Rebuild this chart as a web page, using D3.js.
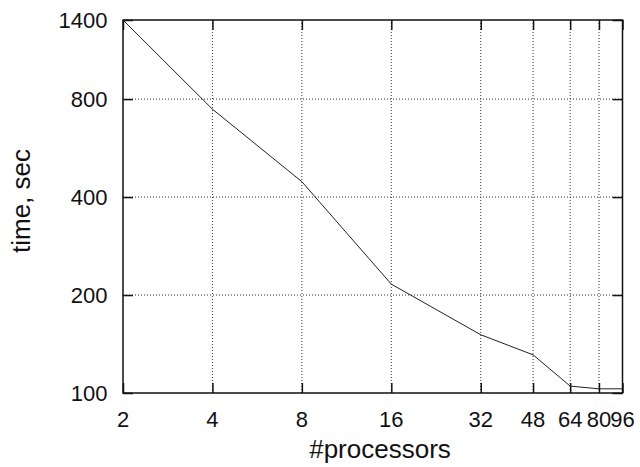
<!DOCTYPE html>
<html>
<head>
<meta charset="utf-8">
<script src="https://cdn.jsdelivr.net/npm/d3@7"></script>
<style>
  body { margin: 0; background: #fff; }
  text { font-family: "Liberation Sans", Arial, sans-serif; fill: #111; }
</style>
</head>
<body>
<div id="chart"></div>
<script>
// data
let procs = [2, 4, 8, 16, 32, 48, 64, 80, 96];
let times = [1400, 745, 446, 216, 151, 131, 105, 103, 103];

// tick labels
let xTicks = [2, 4, 8, 16, 32, 48, 64, 80, 96];
let yTicks = [100, 200, 400, 800, 1400];

let width = 640;
let height = 467;
let plotL = 123, plotR = 622.5, plotT = 20, plotB = 393;

let svg = d3.select("#chart")
  .append("svg")
  .attr("width", width)
  .attr("height", height);

let xScale = d3.scaleLog().base(2)
  .domain([2, 96])
  .range([plotL, plotR]);

let yScale = d3.scaleLog()
  .domain([100, 1400])
  .range([plotB, plotT]);

// grid (dotted)
let grid = svg.append("g").attr("class", "grid");
grid.selectAll("line.gx")
  .data(xTicks.slice(1, -1))
  .enter()
  .append("line")
  .attr("x1", d => xScale(d)).attr("x2", d => xScale(d))
  .attr("y1", plotT).attr("y2", plotB)
  .attr("stroke", "#333")
  .attr("stroke-width", 1)
  .attr("stroke-dasharray", "1,2");

grid.selectAll("line.gy")
  .data(yTicks.slice(1, -1))
  .enter()
  .append("line")
  .attr("x1", plotL).attr("x2", plotR)
  .attr("y1", d => yScale(d)).attr("y2", d => yScale(d))
  .attr("stroke", "#333")
  .attr("stroke-width", 1)
  .attr("stroke-dasharray", "1,2");

// inward ticks, mirrored on top and right
let tickLen = 10;
let xAxisB = d3.axisBottom(xScale).tickValues(xTicks).tickSize(-tickLen).tickFormat("");
let xAxisT = d3.axisTop(xScale).tickValues(xTicks).tickSize(-tickLen).tickFormat("");
let yAxisL = d3.axisLeft(yScale).tickValues(yTicks).tickSize(-tickLen).tickFormat("");
let yAxisR = d3.axisRight(yScale).tickValues(yTicks).tickSize(-tickLen).tickFormat("");

svg.append("g").attr("transform", "translate(0," + plotB + ")").call(xAxisB);
svg.append("g").attr("transform", "translate(0," + plotT + ")").call(xAxisT);
svg.append("g").attr("transform", "translate(" + plotL + ",0)").call(yAxisL);
svg.append("g").attr("transform", "translate(" + plotR + ",0)").call(yAxisR);

svg.selectAll(".domain").remove();
svg.selectAll(".tick line").attr("stroke", "#111").attr("stroke-width", 1.5);

// tick labels
svg.append("g").selectAll("text")
  .data(xTicks)
  .enter()
  .append("text")
  .attr("x", d => xScale(d))
  .attr("y", 427)
  .attr("text-anchor", "middle")
  .attr("font-size", 22)
  .text(d => d);

svg.append("g").selectAll("text")
  .data(yTicks)
  .enter()
  .append("text")
  .attr("x", 107.5)
  .attr("y", d => yScale(d) + 8)
  .attr("text-anchor", "end")
  .attr("font-size", 22)
  .text(d => d);

// frame
svg.append("rect")
  .attr("x", plotL).attr("y", plotT)
  .attr("width", plotR - plotL).attr("height", plotB - plotT)
  .attr("fill", "none")
  .attr("stroke", "#111")
  .attr("stroke-width", 1.5);

// data line
let line = d3.line()
  .x((d, i) => xScale(procs[i]))
  .y(d => yScale(d));

svg.append("path")
  .datum(times)
  .attr("d", line)
  .attr("fill", "none")
  .attr("stroke", "#222")
  .attr("stroke-width", 1);

// axis titles
svg.append("text")
  .attr("x", 380)
  .attr("y", 458)
  .attr("text-anchor", "middle")
  .attr("font-size", 26)
  .text("#processors");

svg.append("text")
  .attr("transform", "translate(30,201) rotate(-90)")
  .attr("text-anchor", "middle")
  .attr("font-size", 26)
  .text("time, sec");
</script>
</body>
</html>
